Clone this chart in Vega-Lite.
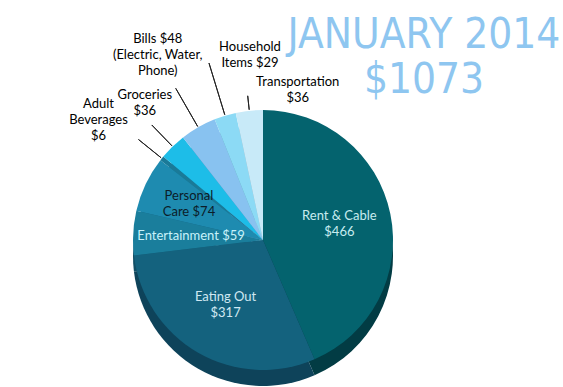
{
  "$schema": "https://vega.github.io/schema/vega-lite/v6.json",
  "width": 526,
  "height": 260,
  "autosize": {"type": "none"},
  "padding": {"left": 0, "top": 110, "right": 37, "bottom": 17},
  "background": "white",
  "title": {
    "text": ["JANUARY 2014", "$1073"],
    "font": "Liberation Sans Narrow, DejaVu Sans Condensed, sans-serif",
    "fontSize": 42,
    "fontWeight": "normal",
    "lineHeight": 45,
    "color": "#8ec6f0",
    "anchor": "middle",
    "align": "center",
    "dx": 161,
    "dy": 105,
    "offset": 14
  },
  "data": {
    "values": [
      {"category": "Rent & Cable", "label": "Rent & Cable\n$466", "value": 466, "order": 1},
      {"category": "Eating Out", "label": "Eating Out\n$317", "value": 317, "order": 2},
      {"category": "Entertainment", "label": "Entertainment $59", "value": 59, "order": 3},
      {"category": "Personal Care", "label": "Personal\nCare $74", "value": 74, "order": 4},
      {"category": "Adult Beverages", "label": "Adult\nBeverages\n$6", "value": 6, "order": 5},
      {"category": "Groceries", "label": "Groceries\n$36", "value": 36, "order": 6},
      {"category": "Bills", "label": "Bills $48\n(Electric, Water,\nPhone)", "value": 48, "order": 7},
      {"category": "Household Items", "label": "Household\nItems $29", "value": 29, "order": 8},
      {"category": "Transportation", "label": "Transportation\n$36", "value": 36, "order": 9}
    ]
  },
  "encoding": {
    "theta": {"field": "value", "type": "quantitative", "stack": true},
    "order": {"field": "order", "type": "quantitative"}
  },
  "layer": [
    {
      "mark": {"type": "arc", "outerRadius": 130, "yOffset": 16},
      "encoding": {
        "color": {
          "field": "category", "type": "nominal", "legend": null,
          "scale": {
            "domain": ["Rent & Cable", "Eating Out", "Entertainment", "Personal Care", "Adult Beverages", "Groceries", "Bills", "Household Items", "Transportation"],
            "range": ["#023c44", "#0e435a", "#114f66", "#135a75", "#125068", "#1280a0", "#5a8fb8", "#5ea0b8", "#8ab0c0"]
          }
        }
      }
    },
    {
      "mark": {"type": "arc", "outerRadius": 130},
      "encoding": {
        "color": {
          "field": "category", "type": "nominal", "legend": null,
          "scale": {
            "domain": ["Rent & Cable", "Eating Out", "Entertainment", "Personal Care", "Adult Beverages", "Groceries", "Bills", "Household Items", "Transportation"],
            "range": ["#04636e", "#14627e", "#1a7e9c", "#1e8bb0", "#1a7a98", "#1dbde8", "#88c2f0", "#8cdaf5", "#c8eaf8"]
          }
        }
      }
    },
    {
      "mark": {"type": "arc", "innerRadius": 131, "outerRadius": 145, "padAngle": 0.5, "fillOpacity": 0, "stroke": "#222222", "strokeWidth": 1},
      "encoding": {"strokeOpacity": {"condition": {"test": "datum.category === 'Transportation'", "value": 1}, "value": 0}}
    },
    {
      "mark": {"type": "arc", "innerRadius": 131, "outerRadius": 160, "padAngle": 0.5, "fillOpacity": 0, "stroke": "#222222", "strokeWidth": 1},
      "encoding": {"strokeOpacity": {"condition": {"test": "datum.category === 'Groceries' || datum.category === 'Adult Beverages'", "value": 1}, "value": 0}}
    },
    {
      "mark": {"type": "arc", "innerRadius": 131, "outerRadius": 175, "padAngle": 0.5, "fillOpacity": 0, "stroke": "#222222", "strokeWidth": 1},
      "encoding": {"strokeOpacity": {"condition": {"test": "datum.category === 'Bills'", "value": 1}, "value": 0}}
    },
    {
      "mark": {"type": "arc", "innerRadius": 131, "outerRadius": 185, "padAngle": 0.5, "fillOpacity": 0, "stroke": "#222222", "strokeWidth": 1},
      "encoding": {"strokeOpacity": {"condition": {"test": "datum.category === 'Household Items'", "value": 1}, "value": 0}}
    },
    {
      "mark": {"type": "text", "radius": 78, "dy": -8, "align": "center", "baseline": "middle", "color": "#c8ecf0"},
      "encoding": {"text": {"condition": {"test": "datum.category === 'Rent & Cable'", "field": "label"}, "value": ""}}
    },
    {
      "mark": {"type": "text", "radius": 75, "dy": -8, "align": "center", "baseline": "middle", "color": "#d0e8f2"},
      "encoding": {"text": {"condition": {"test": "datum.category === 'Eating Out'", "field": "label"}, "value": ""}}
    },
    {
      "mark": {"type": "text", "radius": 72, "align": "center", "baseline": "middle", "color": "#c8f2fa"},
      "encoding": {"text": {"condition": {"test": "datum.category === 'Entertainment'", "field": "label"}, "value": ""}}
    },
    {
      "mark": {"type": "text", "radius": 82, "dy": -9, "align": "center", "baseline": "middle", "color": "#0c1c28"},
      "encoding": {"text": {"condition": {"test": "datum.category === 'Personal Care'", "field": "label"}, "value": ""}}
    },
    {
      "mark": {"type": "text", "radius": 145, "dx": 50, "dy": -14, "align": "center", "baseline": "middle", "color": "#000000"},
      "encoding": {"text": {"condition": {"test": "datum.category === 'Transportation'", "field": "label"}, "value": ""}}
    },
    {
      "mark": {"type": "text", "radius": 185, "dx": 41, "dy": -16, "align": "center", "baseline": "middle", "color": "#000000"},
      "encoding": {"text": {"condition": {"test": "datum.category === 'Household Items'", "field": "label"}, "value": ""}}
    },
    {
      "mark": {"type": "text", "radius": 175, "dx": -18, "dy": -49, "align": "center", "baseline": "middle", "color": "#000000"},
      "encoding": {"text": {"condition": {"test": "datum.category === 'Bills'", "field": "label"}, "value": ""}}
    },
    {
      "mark": {"type": "text", "radius": 160, "dx": -7, "dy": -30, "align": "center", "baseline": "middle", "color": "#000000"},
      "encoding": {"text": {"condition": {"test": "datum.category === 'Groceries'", "field": "label"}, "value": ""}}
    },
    {
      "mark": {"type": "text", "radius": 160, "dx": -40, "dy": -36, "align": "center", "baseline": "middle", "color": "#000000"},
      "encoding": {"text": {"condition": {"test": "datum.category === 'Adult Beverages'", "field": "label"}, "value": ""}}
    }
  ],
  "resolve": {"scale": {"color": "independent"}},
  "config": {
    "view": {"stroke": null},
    "text": {"font": "Lato", "fontSize": 13, "lineBreak": "\n", "lineHeight": 16}
  }
}
